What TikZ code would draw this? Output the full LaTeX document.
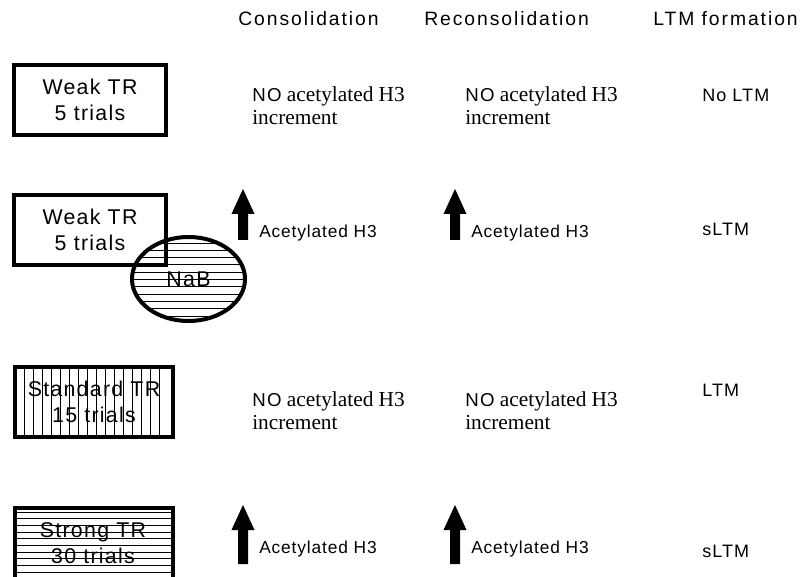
\documentclass[tikz,border=0pt]{standalone}
\usepackage{fontspec}
\setmainfont{Liberation Serif}
\newfontfamily\spsans[LetterSpace=6]{Liberation Sans}
\newfontfamily\acsans[LetterSpace=5]{Liberation Sans}
\newfontfamily\hdsans[LetterSpace=10]{Liberation Sans}
\newfontfamily\plsans{Liberation Sans}
\usetikzlibrary{shapes.geometric}
\newcommand\UpArr[3]{\fill (#1,#2) -- (#1+11.5,#2+25) -- (#1+5,#2+25) -- (#1+5,#3) -- (#1-5,#3) -- (#1-5,#2+25) -- (#1-11.5,#2+25) -- cycle;}
\tikzset{
  hdr/.style={anchor=base west, inner sep=0pt, font=\hdsans\fontsize{14.5}{17}\selectfont},
  acet/.style={anchor=base west, inner sep=0pt, font=\acsans\fontsize{13}{16}\selectfont},
  ltm/.style={anchor=base west, inner sep=0pt, font=\spsans\fontsize{13.5}{16}\selectfont},
  notext/.style={anchor=base west, inner sep=0pt, align=left, font=\fontsize{16}{17.25}\selectfont},
  trbox/.style={draw, line width=3pt, inner sep=0pt, align=center, minimum width=114pt, minimum height=52.5pt,
                font=\spsans\fontsize{16}{19.5}\selectfont},
  trtext/.style={inner sep=0pt, align=center, font=\spsans\fontsize{16}{19.5}\selectfont},
  vhatch/.style={path picture={\foreach \k in {0,...,15}{\draw[line width=0.6pt] ([xshift={(9.7+9*\k)*0.75pt}]path picture bounding box.north west) -- ([xshift={(9.7+9*\k)*0.75pt}]path picture bounding box.south west);}}},
  hhatch/.style={path picture={\foreach \k in {0,...,14}{\draw[line width=0.6pt] ([yshift={-(4+6.67*\k)*0.75pt}]path picture bounding box.north west) -- ([yshift={-(4+6.67*\k)*0.75pt}]path picture bounding box.north east);}}},
  ehatch/.style={path picture={\foreach \k in {0,...,11}{\draw[line width=0.6pt] ([yshift={-(6+7.3*\k)*0.75pt}]path picture bounding box.north west) -- ([yshift={-(6+7.3*\k)*0.75pt}]path picture bounding box.north east);}}},
}
\newcommand\NOtxt{{\plsans\fontsize{14}{16}\selectfont N\kern1pt O}}
\begin{document}
\begin{tikzpicture}[x=0.75pt,y=-0.75pt]
\useasboundingbox (0,0) rectangle (807,577);
\clip (0,0) rectangle (807,577);
% headers
\node[hdr] (h1) at (238,26) {Consolidation};
\node[hdr] (h2) at (424,26) {Reconsolidation};
\node[hdr] (h3) at (653,26) {LTM formation};
% row 1
\node[trbox] (b1) at (90,100) {Weak TR\\5 trials};
\node[notext] (n11) at (252,125) {\NOtxt{} acetylated H3\\increment};
\node[notext] (n12) at (465,125) {\NOtxt{} acetylated H3\\increment};
\node[ltm] (l1) at (702,102) {No LTM};
% row 2
\node[ellipse, fill=white, ehatch, inner sep=0pt, minimum width=84.75pt, minimum height=63pt,
      font=\spsans\fontsize{16}{18}\selectfont] (nab) at (188.5,279) {NaB};
\node[trbox] (b2) at (90,230) {Weak TR\\5 trials};
\node[ellipse, draw, line width=3pt, inner sep=0pt, minimum width=84.75pt, minimum height=63pt] (nabrim) at (188.5,279) {};
\UpArr{243}{189}{240}
\node[acet] (a21) at (259,238) {Acetylated H3};
\UpArr{455}{189}{240}
\node[acet] (a22) at (471,238) {Acetylated H3};
\node[ltm] (l2) at (702,236) {sLTM};
% row 3
\node[trbox, vhatch, minimum width=118.5pt] (b3) at (94,402) {Standard TR\\15 trials};
\node[notext] (n31) at (252,429) {\NOtxt{} acetylated H3\\increment};
\node[notext] (n32) at (465,429) {\NOtxt{} acetylated H3\\increment};
\node[ltm] (l3) at (702,397) {LTM};
% row 4
\node[draw, line width=3pt, hhatch, inner sep=0pt, minimum width=118.5pt, minimum height=72pt] (b4) at (94,556) {};
\node[trtext] (t4) at (93,543) {Strong TR\\30 trials};
\UpArr{243}{505}{564}
\node[acet] (a41) at (259,553) {Acetylated H3};
\UpArr{455}{505}{564}
\node[acet] (a42) at (471,553) {Acetylated H3};
\node[ltm] (l4) at (702,557) {sLTM};
\end{tikzpicture}
\end{document}
